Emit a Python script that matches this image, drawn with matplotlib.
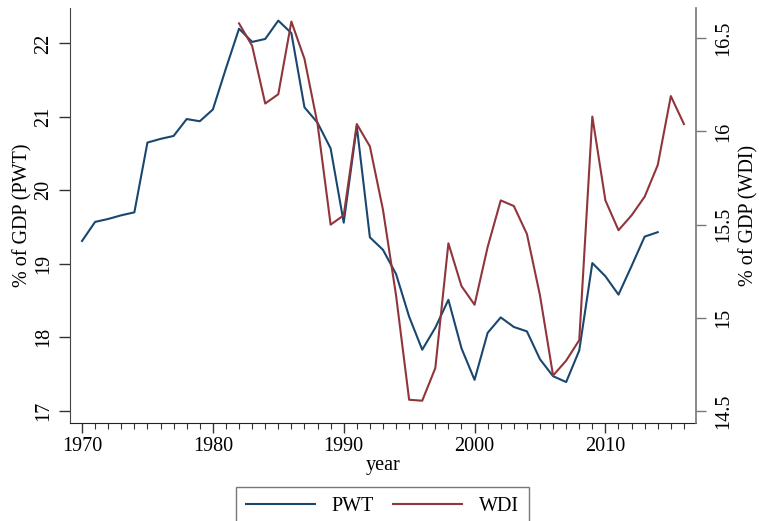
import matplotlib
matplotlib.use('Agg')
import matplotlib.pyplot as plt
import numpy as np

# Data
pwt_years = list(range(1970, 2015))
pwt_values = [19.31, 19.57, 19.61, 19.66, 19.70, 20.65, 20.70, 20.74, 20.97, 20.94,
              21.10, 21.66, 22.20, 22.02, 22.06, 22.31, 22.14, 21.13, 20.92, 20.57,
              19.56, 20.87, 19.36, 19.19, 18.86, 18.28, 17.83, 18.13, 18.51, 17.85,
              17.42, 18.06, 18.27, 18.14, 18.08, 17.70, 17.47, 17.39, 17.82, 19.01,
              18.83, 18.58, 18.97, 19.37, 19.43]

wdi_years = list(range(1982, 2017))
wdi_values = [16.58, 16.46, 16.15, 16.20, 16.59, 16.39, 16.04, 15.50, 15.55, 16.04,
              15.92, 15.58, 15.12, 14.56, 14.555, 14.73, 15.40, 15.17, 15.07, 15.38,
              15.63, 15.60, 15.45, 15.12, 14.69, 14.77, 14.88, 16.08, 15.63, 15.47,
              15.55, 15.65, 15.82, 16.19, 16.04]

left_ticks = [17, 18, 19, 20, 21, 22]
right_ticks = [14.5, 15, 15.5, 16, 16.5]
right_labels = ['14.5', '15', '15.5', '16', '16.5']
year_ticks = [1970, 1980, 1990, 2000, 2010]

plt.rcParams['font.family'] = ['Liberation Serif', 'DejaVu Serif']
plt.rcParams['font.size'] = 14.5

fig = plt.figure(figsize=(7.59, 5.21), dpi=100)
ax = fig.add_axes([0.0922, 0.1887, 0.8244, 0.7953])
ax2 = ax.twinx()

blue = '#1a476f'
red = '#90353b'

l1, = ax.plot(pwt_years, pwt_values, color=blue, lw=1.5, label='PWT')
l2, = ax2.plot(wdi_years, wdi_values, color=red, lw=1.5, label='WDI')

ax.set_xlim(1969.08, 2016.9)
ax.set_ylim(16.837, 22.477)
ax2.set_ylim(14.437, 16.661)

ax.set_xticks(year_ticks)
ax.set_xticks(range(1970, 2017), minor=True)
ax.set_yticks(left_ticks)
ax.set_yticklabels([str(t) for t in left_ticks], rotation=90, va='center')
ax2.set_yticks(right_ticks)
ax2.set_yticklabels(right_labels, rotation=90, va='center')

ax.tick_params(axis='x', which='major', length=7, width=1, pad=3, color='#333333')
ax.tick_params(axis='x', which='minor', length=4, width=0.8, color='#333333')
ax.tick_params(axis='y', length=8, width=1, pad=4, color='#333333')
ax2.tick_params(axis='y', length=7.5, width=1, pad=6, color='#777777')

for a in (ax, ax2):
    a.spines['top'].set_visible(False)
ax.spines['right'].set_visible(False)
ax.spines['left'].set_color('#444444')
ax.spines['bottom'].set_color('#222222')
ax2.spines['left'].set_visible(False)
ax2.spines['bottom'].set_visible(False)
ax2.spines['right'].set_color('#777777')
ax2.spines['right'].set_linewidth(1.2)

ax.set_xlabel('year', labelpad=0)
ax.set_ylabel('% of GDP (PWT)', labelpad=1)
ax2.set_ylabel('% of GDP (WDI)', labelpad=4)

leg = fig.legend([l1, l2], ['PWT', 'WDI'], loc='upper center',
                 bbox_to_anchor=(0.504, 0.066), ncol=2, frameon=True,
                 fancybox=False, handlelength=3.4, handletextpad=0.85,
                 columnspacing=0.95, borderpad=0.5, borderaxespad=0,
                 edgecolor='#555555')
leg.get_frame().set_linewidth(1.0)

fig.savefig('out.png', dpi=100)
